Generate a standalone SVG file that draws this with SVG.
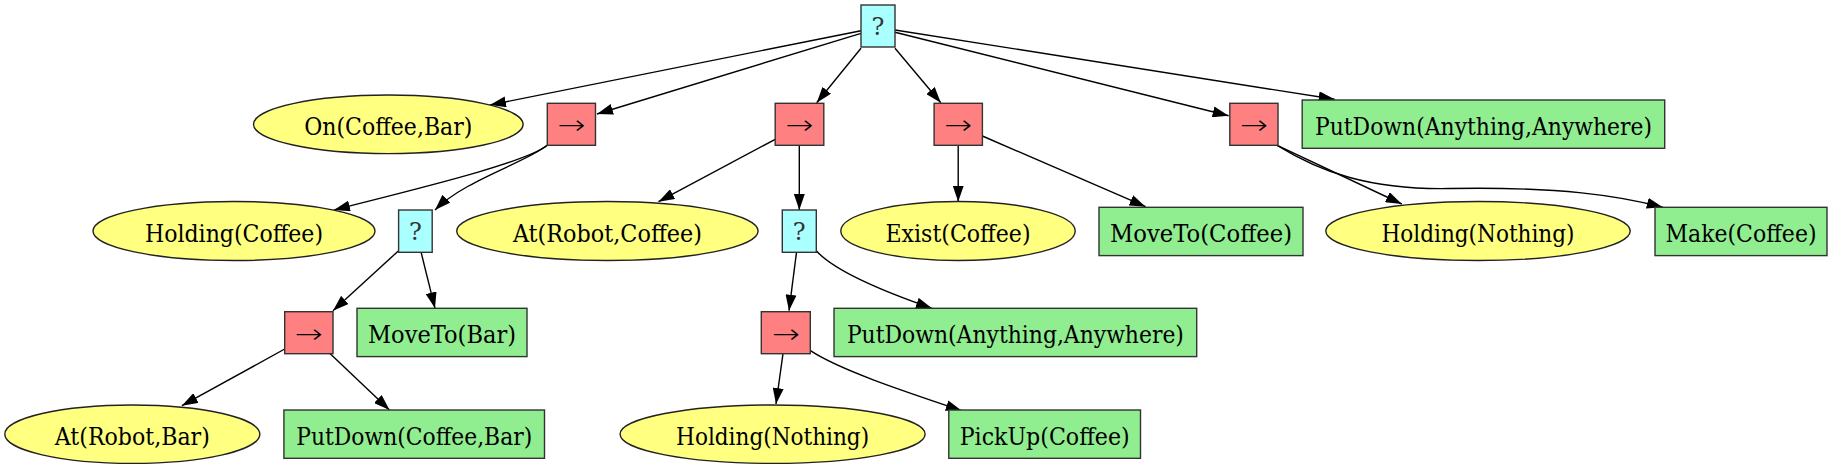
<svg xmlns="http://www.w3.org/2000/svg" width="1832" height="469" viewBox="0 0 1832 469">
<style>
text{font-family:"DejaVu Serif",serif;font-size:24.5px;text-anchor:middle;fill:#000}
text.op{font-family:"DejaVu Sans",sans-serif;font-weight:200;font-size:26.7px}
text.q{fill:#333;font-size:24px}
.seq{fill:#ff8080;stroke:#333;stroke-width:1.4}
.sel{fill:#aaffff;stroke:#333;stroke-width:1.4}
.cond{fill:#ffff80;stroke:#222;stroke-width:1.4}
.act{fill:#90ee90;stroke:#333;stroke-width:1.4}
.e{fill:none;stroke:#000;stroke-width:1.4;marker-end:url(#ah)}
</style>
<defs>
<marker id="ah" viewBox="0 0 16 11" refX="16" refY="5.5" markerWidth="16" markerHeight="11" markerUnits="userSpaceOnUse" orient="auto">
<path d="M0,0 L16,5.5 L0,11 z" fill="#000"/>
</marker>
</defs>
<rect width="1832" height="469" fill="#fff"/>
<g id="edges">
<path class="e" d="M861,30.7 L490,105"/>
<path class="e" d="M861,33.3 L597,114"/>
<path class="e" d="M861,48.3 L816.7,102.7"/>
<path class="e" d="M895,48.3 L940.8,102.7"/>
<path class="e" d="M895,32.3 L1228.6,115.7"/>
<path class="e" d="M895,30 L1334.6,99.3"/>
<path class="e" d="M547.3,145.3 C525,163 420,188 334,210"/>
<path class="e" d="M547.3,145.3 C525,163 465,180 435,210"/>
<path class="e" d="M775.2,139.3 L658.5,201.7"/>
<path class="e" d="M799.3,145.3 L799.3,210"/>
<path class="e" d="M958.2,145.3 L958.2,201.7"/>
<path class="e" d="M982.4,136 L1145.6,206.7"/>
<path class="e" d="M1277.2,145.3 L1401.8,204"/>
<path class="e" d="M1277.2,145.3 C1320,172 1370,190 1450,188.5 C1560,186.5 1620,196 1662.8,207.3"/>
<path class="e" d="M398.6,250.7 L333,310.7"/>
<path class="e" d="M421.1,252.3 L435,308.3"/>
<path class="e" d="M796.5,252.3 L789,310.7"/>
<path class="e" d="M816.3,250.7 C835,272 885,292 932,308.3"/>
<path class="e" d="M284.7,349 L181.9,405.7"/>
<path class="e" d="M330.2,353.7 L389.5,410"/>
<path class="e" d="M783,353.7 L776,404"/>
<path class="e" d="M810.4,350.7 C840,370 900,390 961.8,410.7"/>
</g>
<g id="root"><rect class="sel" x="861" y="5" width="34" height="42"/><text class="q" x="878" y="35">?</text></g>
<g id="on_coffee_bar"><ellipse class="cond" cx="388.3" cy="124.3" rx="134.8" ry="29.3"/><text x="388.3" y="134.8" textLength="168" lengthAdjust="spacingAndGlyphs">On(Coffee,Bar)</text></g>
<g id="seq0"><rect class="seq" x="547.3" y="103.3" width="48.2" height="42"/><text class="op" x="571.4" y="134" textLength="28" lengthAdjust="spacingAndGlyphs">→</text></g>
<g id="seq1"><rect class="seq" x="775.2" y="103.3" width="48.6" height="42"/><text class="op" x="799.5" y="134" textLength="28" lengthAdjust="spacingAndGlyphs">→</text></g>
<g id="seq2"><rect class="seq" x="934.1" y="103.3" width="48.3" height="42"/><text class="op" x="958.2" y="134" textLength="28" lengthAdjust="spacingAndGlyphs">→</text></g>
<g id="seq3"><rect class="seq" x="1229.8" y="103.3" width="48.2" height="42"/><text class="op" x="1253.9" y="134" textLength="28" lengthAdjust="spacingAndGlyphs">→</text></g>
<g id="putdown_any_top"><rect class="act" x="1302.2" y="100" width="362.5" height="48.3"/><text x="1483.5" y="134.8" textLength="337" lengthAdjust="spacingAndGlyphs">PutDown(Anything,Anywhere)</text></g>
<g id="holding_coffee"><ellipse class="cond" cx="234" cy="231" rx="141" ry="29.5"/><text x="234" y="241.5" textLength="178" lengthAdjust="spacingAndGlyphs">Holding(Coffee)</text></g>
<g id="sel1"><rect class="sel" x="398.6" y="210" width="33.6" height="42.3"/><text class="q" x="415.4" y="240">?</text></g>
<g id="at_robot_coffee"><ellipse class="cond" cx="607.4" cy="231" rx="150.7" ry="29.5"/><text x="607.4" y="241.5" textLength="189" lengthAdjust="spacingAndGlyphs">At(Robot,Coffee)</text></g>
<g id="sel2"><rect class="sel" x="782.3" y="210" width="34" height="42.3"/><text class="q" x="799.3" y="240">?</text></g>
<g id="exist_coffee"><ellipse class="cond" cx="958" cy="231" rx="117.2" ry="29.5"/><text x="958" y="241.5" textLength="145" lengthAdjust="spacingAndGlyphs">Exist(Coffee)</text></g>
<g id="moveto_coffee"><rect class="act" x="1099" y="207.3" width="204" height="48.3"/><text x="1201" y="241.5" textLength="182" lengthAdjust="spacingAndGlyphs">MoveTo(Coffee)</text></g>
<g id="holding_nothing_top"><ellipse class="cond" cx="1478" cy="231" rx="152.2" ry="29.5"/><text x="1478" y="241.5" textLength="193" lengthAdjust="spacingAndGlyphs">Holding(Nothing)</text></g>
<g id="make_coffee"><rect class="act" x="1655" y="207.3" width="172" height="48.3"/><text x="1741" y="241.5" textLength="151" lengthAdjust="spacingAndGlyphs">Make(Coffee)</text></g>
<g id="seq4"><rect class="seq" x="284.7" y="311.7" width="48.3" height="42"/><text class="op" x="308.8" y="342.5" textLength="28" lengthAdjust="spacingAndGlyphs">→</text></g>
<g id="moveto_bar"><rect class="act" x="357" y="308.3" width="170" height="48.3"/><text x="442" y="343" textLength="148" lengthAdjust="spacingAndGlyphs">MoveTo(Bar)</text></g>
<g id="seq5"><rect class="seq" x="761.3" y="311.7" width="49" height="42"/><text class="op" x="785.9" y="342.5" textLength="28" lengthAdjust="spacingAndGlyphs">→</text></g>
<g id="putdown_any_mid"><rect class="act" x="834" y="308.3" width="362.7" height="48.3"/><text x="1015.4" y="343" textLength="337" lengthAdjust="spacingAndGlyphs">PutDown(Anything,Anywhere)</text></g>
<g id="at_robot_bar"><ellipse class="cond" cx="132.3" cy="434.2" rx="127.5" ry="29.2"/><text x="132.3" y="444.7" textLength="155" lengthAdjust="spacingAndGlyphs">At(Robot,Bar)</text></g>
<g id="putdown_coffee_bar"><rect class="act" x="283.9" y="410" width="260.6" height="48.3"/><text x="414.2" y="444.7" textLength="236" lengthAdjust="spacingAndGlyphs">PutDown(Coffee,Bar)</text></g>
<g id="holding_nothing_bottom"><ellipse class="cond" cx="772.6" cy="434.2" rx="152.5" ry="29.2"/><text x="772.6" y="444.7" textLength="193" lengthAdjust="spacingAndGlyphs">Holding(Nothing)</text></g>
<g id="pickup_coffee"><rect class="act" x="948.8" y="410" width="191.7" height="48.3"/><text x="1044.7" y="444.7" textLength="170" lengthAdjust="spacingAndGlyphs">PickUp(Coffee)</text></g>
</svg>
